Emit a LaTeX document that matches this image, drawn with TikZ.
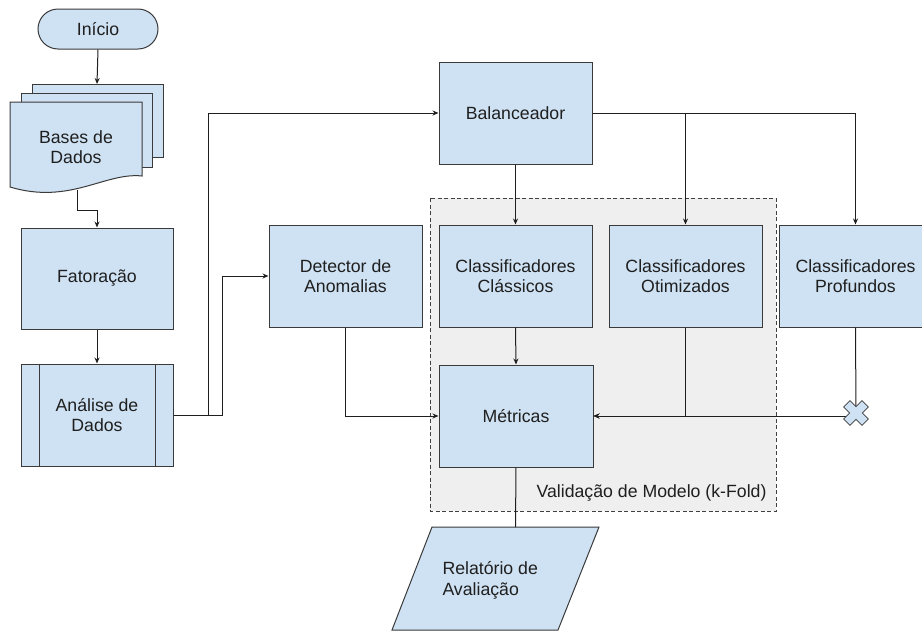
\documentclass[tikz,border=0pt]{standalone}
\usepackage{fontspec}
\setmainfont{Liberation Sans}
\usetikzlibrary{arrows.meta}
\definecolor{boxfill}{HTML}{CFE2F3}
\definecolor{grpfill}{HTML}{EFEFEF}
\definecolor{edgecol}{HTML}{3A3A3A}
\definecolor{txtcol}{HTML}{1F1F1F}
\begin{document}
\begin{tikzpicture}[x=1pt,y=-1pt,line width=1pt,
  font=\fontsize{17.7}{20.5}\selectfont,
  box/.style={draw=edgecol,fill=boxfill,minimum width=153pt,minimum height=102pt,align=center,inner sep=0pt,text=txtcol},
  startbox/.style={draw=edgecol,fill=boxfill,rounded corners=20pt,minimum width=120pt,minimum height=40pt,inner sep=0pt,text=txtcol},
  conn/.style={draw=black!88,line width=1pt},
  arr/.style={conn,-{Stealth[length=6pt,width=5pt]}},
  shapeline/.style={draw=edgecol,fill=boxfill},
  plain/.style={inner sep=0pt,align=center,text=txtcol}]
\useasboundingbox (0,0) rectangle (922,632);
\clip (0,0) rectangle (922,632);
% group container
\draw[dashed,draw=black!75,fill=grpfill,dash pattern=on 4pt off 2.5pt] (430,198) rectangle (776,511);
\node[plain,anchor=east] (grplabel) at (767,493) {Validação de Modelo (k-Fold)};
% start
\node[startbox] (inicio) at (98,29) {Início};
% Bases de Dados (multi-document)
\draw[shapeline] (32,84) rectangle (163,157);
\draw[shapeline] (21,93) rectangle (152,167);
\draw[shapeline] (10,102) -- (142,102) -- (142,176) .. controls (105,172) and (70,205) .. (10,187) -- cycle;
\node[plain] (bases) at (76,147) {Bases de\\Dados};
\coordinate (basestop) at (97,84);
\coordinate (basesbot) at (77,190);
\coordinate (basesjoin) at (77,210);
% left column
\node[box,minimum width=152pt,minimum height=101pt] (fat) at (97,278.5) {Fatoração};
\node[box,minimum width=152pt,minimum height=102pt] (ana) at (97,415) {Análise de\\Dados};
\draw[draw=edgecol] ([xshift=19pt]ana.north west) -- ([xshift=19pt]ana.south west);
\draw[draw=edgecol] ([xshift=-18pt]ana.north east) -- ([xshift=-18pt]ana.south east);
% main boxes
\node[box] (bal) at (515.5,113) {Balanceador};
\node[box] (det) at (345.5,276) {Detector de\\Anomalias};
\node[box] (cla) at (515.5,276) {Classificadores\\Clássicos};
\node[box] (oti) at (685.5,276) {Classificadores\\Otimizados};
\node[box] (pro) at (855.5,276) {Classificadores\\Profundos};
\node[box,minimum width=154pt] (met) at (516,416) {Métricas};
% output parallelogram
\draw[shapeline] (432,527) -- (599,527) -- (558,630) -- (392,630) -- cycle;
\coordinate (reltop) at (515.5,527);
\node[plain,anchor=west,align=left] (rel) at (442,580.5) {Relatório de\\Avaliação};
% connectors
\draw[arr] (inicio.south) -- (basestop);
\draw[arr] (basesbot) -- (basesjoin) -| (fat.north);
\draw[arr] (fat.south) -- (ana.north);
\draw[arr] (ana.east) -- ++(35,0) |- (bal.west);
\draw[arr] (ana.east) -- ++(49,0) |- (det.west);
\draw[arr] (bal.south) -- (cla.north);
\draw[arr] (bal.east) -| (oti.north);
\draw[arr] (bal.east) -| (pro.north);
\draw[arr] (cla.south) -- (met.north);
\draw[arr] (det.south) |- (met.west);
\draw[arr] (oti.south) |- (met.east);
\coordinate (xm) at (856,413);
\draw[conn] (pro.south) -- (xm);
\draw[arr] (xm |- met.east) -- (met.east);
\draw[conn] (met.south) -- (reltop);
% cross mark
\begin{scope}[shift={(xm)},rotate=45]
\draw[shapeline,line width=0.8pt] (4.5,13) -- (4.5,4.5) -- (13,4.5) -- (13,-4.5) -- (4.5,-4.5) -- (4.5,-13) -- (-4.5,-13) -- (-4.5,-4.5) -- (-13,-4.5) -- (-13,4.5) -- (-4.5,4.5) -- (-4.5,13) -- cycle;
\end{scope}
\end{tikzpicture}
\end{document}
